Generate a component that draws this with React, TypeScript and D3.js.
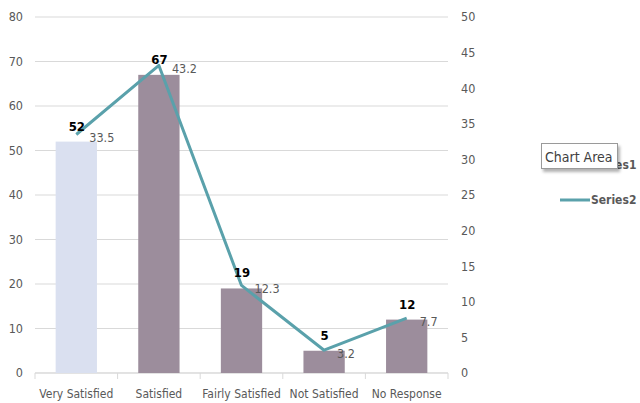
import React from "react";
import * as d3 from "d3";

const categories = ["Very Satisfied", "Satisfied", "Fairly Satisfied", "Not Satisfied", "No Response"];
const series1 = [52, 67, 19, 5, 12];
const series2 = [33.5, 43.2, 12.3, 3.2, 7.7];
const leftTicks = [0, 10, 20, 30, 40, 50, 60, 70, 80];
const rightTicks = [0, 5, 10, 15, 20, 25, 30, 35, 40, 45, 50];
const barColors = ["#dae0f0", "#9c8d9c", "#9c8d9c", "#9c8d9c", "#9c8d9c"];

const W = 640;
const H = 403;
const FONT = "'DejaVu Sans Condensed', 'Liberation Sans Narrow', sans-serif";

export default function App() {
  const x = d3.scaleBand<string>().domain(categories).range([35, 448]).paddingInner(0.5).paddingOuter(0.25);
  const yL = d3.scaleLinear().domain([0, 80]).range([373, 17]);
  const yR = d3.scaleLinear().domain([0, 50]).range([373, 17]);
  const cx = (c: string) => (x(c) as number) + x.bandwidth() / 2;

  const line = d3
    .line<number>()
    .x((_, i) => cx(categories[i]))
    .y((d) => yR(d));

  const boundaries = d3.range(categories.length + 1).map((i) => 35 + i * ((448 - 35) / categories.length));

  return (
    <svg width={W} height={H} style={{ position: "absolute", left: 0, top: 0, fontFamily: FONT }}>
      <defs>
        <filter id="tipShadow" x="-20%" y="-20%" width="150%" height="160%">
          <feDropShadow dx="2" dy="3" stdDeviation="1.5" floodColor="#000" floodOpacity="0.3" />
        </filter>
      </defs>
      <rect width={W} height={H} fill="#fff" />

      {leftTicks.map((t) => (
        <line key={"g" + t} x1={35} x2={448} y1={yL(t)} y2={yL(t)} stroke="#d9d9d9" strokeWidth={1} />
      ))}

      {/* bottom axis with category separators */}
      <line x1={35} x2={448} y1={373} y2={373} stroke="#d9d9d9" />
      {boundaries.map((b, i) => (
        <line key={"t" + i} x1={b} x2={b} y1={373} y2={379} stroke="#d9d9d9" />
      ))}

      {leftTicks.map((t) => (
        <text key={"l" + t} x={23} y={yL(t)} dy="0.35em" textAnchor="end" fontSize={12.5} fill="#595959">
          {t}
        </text>
      ))}
      {rightTicks.map((t) => (
        <text key={"r" + t} x={461} y={yR(t)} dy="0.35em" textAnchor="start" fontSize={12.5} fill="#595959">
          {t}
        </text>
      ))}

      {categories.map((c) => (
        <text key={"c" + c} x={cx(c)} y={398} textAnchor="middle" fontSize={12} fill="#595959">
          {c}
        </text>
      ))}

      {series1.map((v, i) => (
        <rect
          key={"b" + i}
          x={x(categories[i])}
          y={yL(v)}
          width={x.bandwidth()}
          height={yL(0) - yL(v)}
          fill={barColors[i]}
        />
      ))}

      <path d={line(series2) || ""} fill="none" stroke="#5aa1ab" strokeWidth={3} strokeLinejoin="round" />

      {series1.map((v, i) => (
        <text
          key={"bl" + i}
          x={cx(categories[i]) + 0.5}
          y={yL(v) - 11}
          textAnchor="middle"
          fontSize={13}
          fontWeight="bold"
          fill="#000"
        >
          {v}
        </text>
      ))}

      {series2.map((v, i) => (
        <text
          key={"ll" + i}
          x={cx(categories[i]) + 13}
          y={yR(v) + 3}
          dy="0.35em"
          textAnchor="start"
          fontSize={12.5}
          fill="#595959"
        >
          {v}
        </text>
      ))}

      {/* legend */}
      <rect x={567} y={160} width={9} height={9} fill={barColors[1]} />
      <text x={591} y={165} dy="0.35em" fontSize={12} fontWeight="bold" fill="#595959">
        Series1
      </text>
      <line x1={560} x2={590} y1={200} y2={200} stroke="#5aa1ab" strokeWidth={3} />
      <text x={591} y={200} dy="0.35em" fontSize={12} fontWeight="bold" fill="#595959">
        Series2
      </text>

      {/* hover tooltip */}
      <g filter="url(#tipShadow)">
        <rect x={541.5} y={143.5} width={76} height={25} fill="#fff" stroke="#9a9a9a" />
      </g>
      <text x={545} y={157} dy="0.35em" fontSize={14} fill="#404040">
        Chart Area
      </text>
    </svg>
  );
}
